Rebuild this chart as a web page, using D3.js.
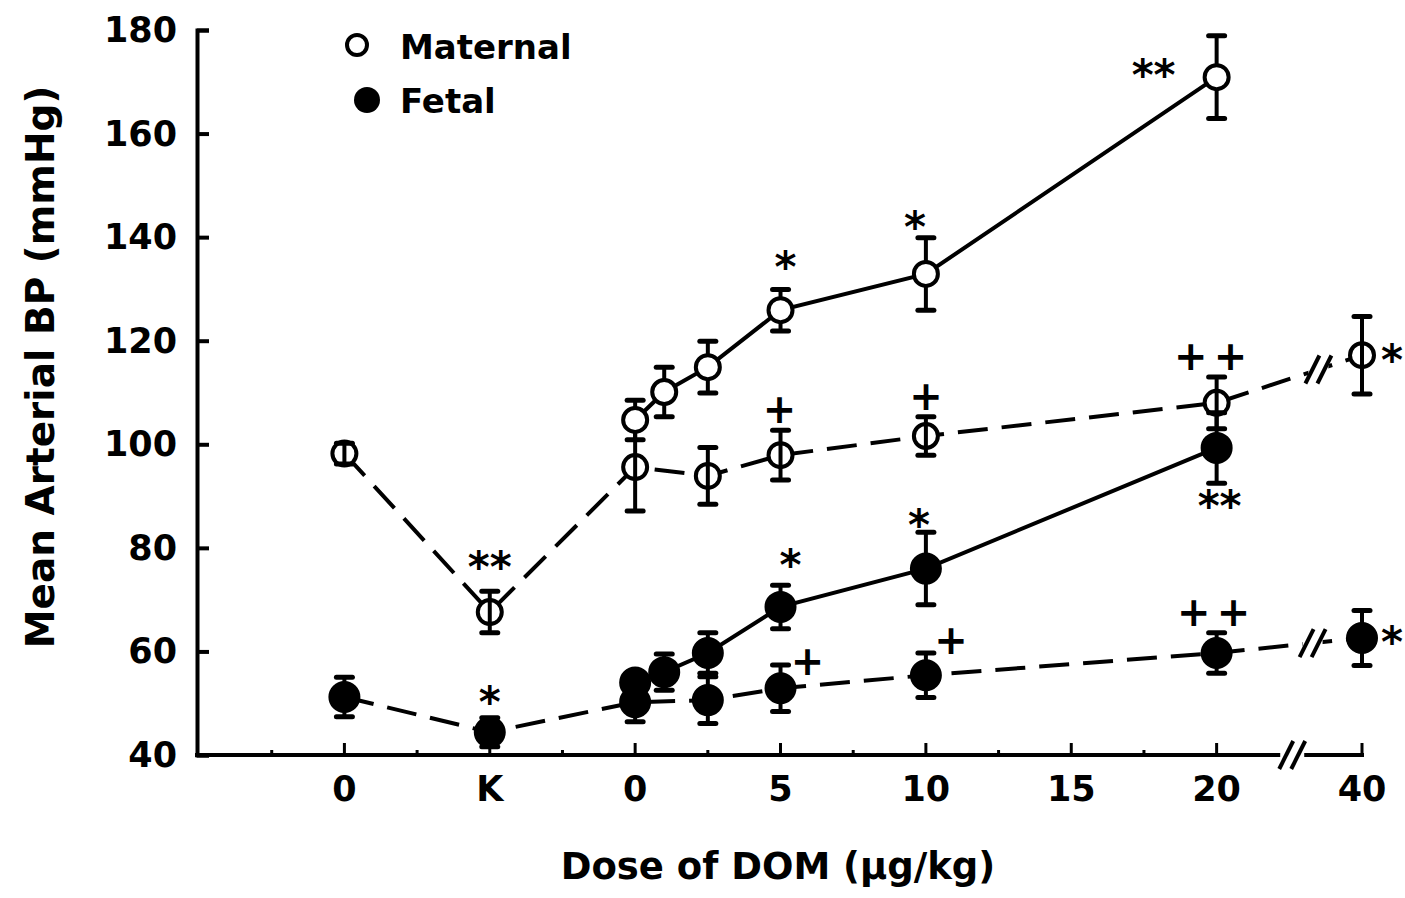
<!DOCTYPE html>
<html>
<head>
    <title>Mean Arterial BP vs Dose of DOM</title>
    <script src="https://d3js.org/d3.v7.min.js"></script>
    <style>
        body { margin: 0; background: #fff; }
        text { font-family: "DejaVu Sans", sans-serif; font-weight: bold; fill: #000; }
    </style>
</head>
<body>
    <script>
        // x positions: -10 = baseline "0", -5 = "K", then DOM dose; 25 stands for 40 (axis break)
        var tickPos = [-10, -5, 0, 5, 10, 15, 20, 25];
        var tickLabels = ["0", "K", "0", "5", "10", "15", "20", "40"];
        var minorPos = [-12.5, -7.5, -2.5, 2.5, 7.5, 12.5, 17.5];
        var yTicks = [40, 60, 80, 100, 120, 140, 160, 180];

        var matSolidX = [0, 1, 2.5, 5, 10, 20];
        var matSolidY = [104.7, 110.1, 114.9, 125.9, 132.9, 170.9];
        var matSolidE = [3.8, 4.8, 5.0, 4.0, 7.0, 8.0];

        var matDashX = [-10, -5, 0, 2.5, 5, 10, 20, 25];
        var matDashY = [98.2, 67.6, 95.6, 93.9, 97.9, 101.6, 108.0, 117.2];
        var matDashE = [2.0, 4.0, 8.5, 5.5, 4.8, 3.7, 5.0, 7.5];

        var fetSolidX = [0, 1, 2.5, 5, 10, 20];
        var fetSolidY = [54.0, 56.0, 59.7, 68.6, 76.0, 99.3];
        var fetSolidE = [2.0, 3.5, 3.9, 4.2, 7.0, 6.8];

        var fetDashX = [-10, -5, 0, 2.5, 5, 10, 20, 25];
        var fetDashY = [51.2, 44.4, 50.2, 50.6, 52.9, 55.4, 59.7, 62.6];
        var fetDashE = [3.8, 2.8, 3.8, 4.5, 4.5, 4.3, 3.9, 5.3];

        // significance marks: [x position, value, text, dx, dy] (dx/dy = offset of symbol centre)
        var marks = [
            [20, 170.9, "**", -63, -7],
            [5, 125.9, "*", 5, -48],
            [10, 132.9, "*", -11, -52],
            [-5, 67.6, "**", 0, -50],
            [5, 97.9, "+", -1, -45],
            [10, 101.6, "+", 0, -39],
            [20, 108.0, "++", -3, -46],
            [25, 117.2, "*", 30, 0],
            [20, 99.3, "**", 3, 53],
            [5, 68.6, "*", 10, -47],
            [10, 76.0, "*", -7, -48],
            [-5, 44.4, "*", 0, -35],
            [5, 52.9, "+", 27, -26],
            [10, 55.4, "+", 25, -34],
            [20, 59.7, "++", 0, -40],
            [25, 62.6, "*", 30, -1]
        ];

        var w = 1405, h = 898;
        var svg = d3.select("body").append("svg").attr("width", w).attr("height", h);

        var x = d3.scaleLinear().domain([-15.07, 25]).range([197, 1362]);
        var y = d3.scaleLinear().domain([40, 180]).range([755, 30]);

        // y axis, ticks pointing inward
        var yAxis = d3.axisRight(y).tickValues(yTicks).tickSize(12).tickFormat("");
        svg.append("g").attr("transform", "translate(197,0)").call(yAxis)
            .call(function (g) { g.selectAll("line,path").attr("stroke", "#000").attr("stroke-width", 4); });
        svg.selectAll(".ylab").data(yTicks).enter().append("text")
            .attr("x", 177).attr("y", function (d) { return y(d) + 12; })
            .attr("text-anchor", "end").attr("font-size", 35).text(function (d) { return d; });

        // x axis
        svg.append("line").attr("x1", 195).attr("x2", 1364).attr("y1", 755).attr("y2", 755)
            .attr("stroke", "#000").attr("stroke-width", 4);
        svg.selectAll(".xt").data(tickPos).enter().append("line")
            .attr("x1", function (d) { return x(d); }).attr("x2", function (d) { return x(d); })
            .attr("y1", 755).attr("y2", 743).attr("stroke", "#000").attr("stroke-width", 3);
        svg.selectAll(".xm").data(minorPos).enter().append("line")
            .attr("x1", function (d) { return x(d); }).attr("x2", function (d) { return x(d); })
            .attr("y1", 755).attr("y2", 750).attr("stroke", "#000").attr("stroke-width", 3);
        svg.selectAll(".xlab").data(tickPos).enter().append("text")
            .attr("x", function (d) { return x(d); }).attr("y", 801)
            .attr("text-anchor", "middle").attr("font-size", 35)
            .text(function (d, i) { return tickLabels[i]; });

        function breakMark(cx, cy) {
            [-6, 6].forEach(function (o) {
                svg.append("line").attr("x1", cx + o - 7).attr("y1", cy + 14)
                    .attr("x2", cx + o + 7).attr("y2", cy - 14)
                    .attr("stroke", "#000").attr("stroke-width", 4);
            });
        }
        svg.append("rect").attr("x", x(22.6) - 12).attr("y", 751).attr("width", 24).attr("height", 8).attr("fill", "#fff");
        breakMark(x(22.6), 755);

        // axis titles
        svg.append("text").attr("x", 778).attr("y", 879).attr("text-anchor", "middle")
            .attr("font-size", 37).text("Dose of DOM (\u00b5g/kg)");
        svg.append("text").attr("transform", "translate(54,367) rotate(-90)").attr("text-anchor", "middle")
            .attr("font-size", 39).text("Mean Arterial BP (mmHg)");

        function series(xs, ys, es, dashed, fill, barsOver) {
            var pts = xs.map(function (d, i) { return { x: d, y: ys[i], e: es[i] }; });
            var line = d3.line().x(function (d) { return x(d.x); }).y(function (d) { return y(d.y); });
            var g = svg.append("g");
            g.append("path").datum(pts).attr("d", line).attr("fill", "none")
                .attr("stroke", "#000").attr("stroke-width", 4)
                .attr("stroke-dasharray", dashed ? "30,14" : null);
            function bars() {
                var b = g.selectAll(null).data(pts).enter().append("g");
                b.append("line").attr("x1", function (d) { return x(d.x); }).attr("x2", function (d) { return x(d.x); })
                    .attr("y1", function (d) { return y(d.y - d.e); }).attr("y2", function (d) { return y(d.y + d.e); })
                    .attr("stroke", "#000").attr("stroke-width", 4);
                [1, -1].forEach(function (s) {
                    b.append("line").attr("x1", function (d) { return x(d.x) - 8; }).attr("x2", function (d) { return x(d.x) + 8; })
                        .attr("y1", function (d) { return y(d.y + s * d.e); }).attr("y2", function (d) { return y(d.y + s * d.e); })
                        .attr("stroke", "#000").attr("stroke-width", 5).attr("stroke-linecap", "round");
                });
            }
            if (!barsOver) bars();
            g.selectAll(null).data(pts).enter().append("circle")
                .attr("cx", function (d) { return x(d.x); }).attr("cy", function (d) { return y(d.y); })
                .attr("r", fill === "#fff" ? 12 : 14).attr("fill", fill).attr("stroke", "#000").attr("stroke-width", 4);
            if (barsOver) bars();
            return pts;
        }

        series(matDashX, matDashY, matDashE, true, "#fff", true);
        series(matSolidX, matSolidY, matSolidE, false, "#fff", false);
        series(fetDashX, fetDashY, fetDashE, true, "#000", false);
        series(fetSolidX, fetSolidY, fetSolidE, false, "#000", false);

        // breaks on the dashed lines between 20 and 40
        [[matDashY, 23.5], [fetDashY, 23.3]].forEach(function (b) {
            var t = (b[1] - 20) / 5;
            var v = b[0][6] + t * (b[0][7] - b[0][6]);
            svg.append("rect").attr("x", x(b[1]) - 10).attr("y", y(v) - 5).attr("width", 20).attr("height", 10).attr("fill", "#fff");
            breakMark(x(b[1]), y(v));
        });

        // significance symbols, baseline shifted so the glyph centre lands on the target
        function fs(d) { return d[2].indexOf("+") >= 0 ? 40 : 42; }
        svg.selectAll(".mk").data(marks).enter().append("text")
            .attr("x", function (d) { return x(d[0]) + d[3]; })
            .attr("y", function (d) {
                var c = y(d[1]) + d[4];
                return d[2].indexOf("+") >= 0 ? c + 13 : c + 0.47 * fs(d);
            })
            .attr("text-anchor", "middle")
            .attr("font-size", fs)
            .attr("letter-spacing", function (d) { return d[2] === "++" ? 6 : 0; })
            .text(function (d) { return d[2]; });

        // legend
        svg.append("circle").attr("cx", 357).attr("cy", 45).attr("r", 10).attr("fill", "#fff")
            .attr("stroke", "#000").attr("stroke-width", 4);
        svg.append("circle").attr("cx", 367).attr("cy", 100).attr("r", 13).attr("fill", "#000");
        svg.append("text").attr("x", 400).attr("y", 59).attr("font-size", 34).text("Maternal");
        svg.append("text").attr("x", 400).attr("y", 113).attr("font-size", 34).text("Fetal");
    </script>
</body>
</html>
